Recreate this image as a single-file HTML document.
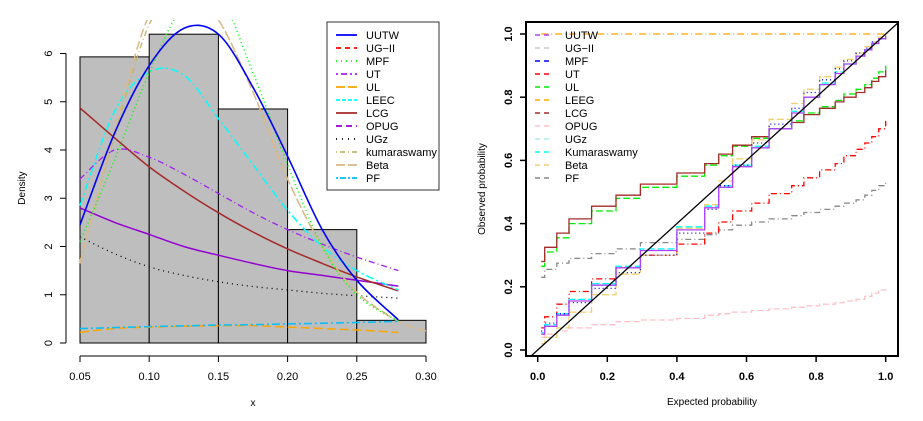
<!DOCTYPE html>
<html><head><meta charset="utf-8">
<style>
html,body{margin:0;padding:0;background:#fff;}
svg{display:block;font-family:"Liberation Sans",Arial,sans-serif;}
</style></head>
<body>
<svg id="chart" width="923" height="421" viewBox="0 0 923 421" xmlns="http://www.w3.org/2000/svg">
<defs>
<clipPath id="lclip"><rect x="40" y="20" width="400" height="340"/></clipPath>
<clipPath id="rclip"><rect x="526" y="22" width="372" height="334"/></clipPath>
</defs>
<g id="left"></g>
<g id="right"></g>
</svg>
<script>
// ---------- Left chart data ----------
const binEdges = [0.05,0.10,0.15,0.20,0.25,0.30];
const binHeights = [5.93,6.40,4.85,2.35,0.47];
const xTicksL = [0.05,0.10,0.15,0.20,0.25,0.30];
const xTickLabelsL = ["0.05","0.10","0.15","0.20","0.25","0.30"];
const yTicksL = [0,1,2,3,4,5,6];
const curveX = [0.05,0.075,0.10,0.125,0.15,0.175,0.20,0.225,0.25,0.28];
const densUUTW = [2.45,4.35,5.75,6.52,6.4,5.3,3.87,2.35,1.3,0.48];
const densMPF = [2.1,3.8,5.6,7.0,7.2,5.6,3.7,2.0,1.0,0.45];
const densUT = [3.4,4.0,3.85,3.5,3.1,2.7,2.35,2.05,1.78,1.5];
const densUL = [0.22,0.3,0.33,0.35,0.36,0.36,0.33,0.3,0.27,0.22];
const densLEEC = [2.85,4.8,5.62,5.55,4.65,3.7,2.75,2.0,1.5,1.1];
const densLCG = [4.87,4.25,3.65,3.15,2.7,2.3,1.95,1.65,1.37,1.08];
const densOPUG = [2.8,2.5,2.25,2.0,1.82,1.65,1.5,1.4,1.3,1.18];
const densUGz = [2.2,1.85,1.58,1.4,1.27,1.17,1.1,1.03,0.98,0.93];
const densKuma = [1.7,4.3,6.6,7.4,6.7,5.2,3.4,2.0,1.05,0.45];
const densBeta = [1.65,4.4,6.8,7.5,6.7,5.2,3.4,2.0,1.05,0.45,0.25];
const densPF = [0.3,0.32,0.34,0.355,0.37,0.38,0.395,0.41,0.425,0.45];
const legendL = ["UUTW","UG\u2212II","MPF","UT","UL","LEEC","LCG","OPUG","UGz","kumaraswamy","Beta","PF"];

// ---------- Right chart data ----------
const ppX = [0.01,0.02,0.055,0.09,0.155,0.225,0.295,0.40,0.48,0.52,0.56,0.615,0.665,0.73,0.765,0.81,0.855,0.88,0.915,0.94,0.96,0.98,1.0];
const ppLCG = [0.28,0.325,0.37,0.415,0.455,0.49,0.525,0.56,0.59,0.62,0.648,0.675,0.70,0.72,0.745,0.765,0.785,0.80,0.815,0.83,0.85,0.865,0.885];
const ppUL = [0.265,0.31,0.355,0.40,0.44,0.48,0.515,0.55,0.585,0.615,0.645,0.67,0.70,0.725,0.75,0.77,0.79,0.81,0.825,0.84,0.86,0.88,0.90];
const ppUUTW = [0.05,0.075,0.11,0.155,0.205,0.26,0.315,0.38,0.45,0.515,0.58,0.64,0.70,0.75,0.80,0.84,0.875,0.905,0.93,0.95,0.97,0.985,0.995];
const ppMPF = [0.06,0.085,0.115,0.15,0.195,0.245,0.30,0.37,0.445,0.52,0.585,0.655,0.715,0.765,0.815,0.855,0.89,0.915,0.94,0.955,0.975,0.985,0.995];
const ppKuma = [0.055,0.08,0.115,0.16,0.21,0.265,0.32,0.39,0.455,0.52,0.585,0.645,0.70,0.755,0.80,0.845,0.88,0.905,0.93,0.95,0.97,0.985,0.995];
const ppBeta = [0.02,0.04,0.07,0.12,0.175,0.24,0.30,0.385,0.46,0.535,0.605,0.665,0.73,0.78,0.825,0.865,0.895,0.92,0.94,0.96,0.975,0.99,0.998];
const ppUT = [0.07,0.105,0.145,0.185,0.225,0.26,0.30,0.335,0.37,0.405,0.44,0.465,0.495,0.52,0.545,0.57,0.59,0.615,0.635,0.655,0.675,0.70,0.725];
const ppPF = [0.23,0.255,0.275,0.29,0.305,0.32,0.34,0.35,0.365,0.38,0.395,0.405,0.415,0.425,0.435,0.445,0.455,0.465,0.475,0.49,0.505,0.52,0.535];
const ppOPUG = [0.04,0.05,0.06,0.07,0.08,0.09,0.095,0.10,0.11,0.115,0.12,0.125,0.13,0.135,0.14,0.145,0.15,0.155,0.16,0.17,0.18,0.19,0.195];
const ppLEEG = [1,1,1,1,1,1,1,1,1,1,1,1,1,1,1,1,1,1,1,1,1,1,1];
const xTicksR = [0,0.2,0.4,0.6,0.8,1.0];
const xTickLabelsR = ["0.0","0.2","0.4","0.6","0.8","1.0"];
const yTicksR = [0,0.2,0.4,0.6,0.8,1.0];
const yTickLabelsR = ["0.0","0.2","0.4","0.6","0.8","1.0"];
const legendR = ["UUTW","UG\u2212II","MPF","UT","UL","LEEG","LCG","OPUG","UGz","Kumaraswamy","Beta","PF"];

const NS = "http://www.w3.org/2000/svg";
function mk(parent, tag, attrs, text){
  const e = document.createElementNS(NS, tag);
  for (const k in attrs) e.setAttribute(k, attrs[k]);
  if (text !== undefined) e.textContent = text;
  parent.appendChild(e);
  return e;
}
const lx = v => 80 + (v - 0.05) / 0.25 * 346;
const ly = v => 343 - v * 48.25;
const rx = v => 537.7 + v * 348;
const ry = v => 350 - v * 316;

const L = document.getElementById('left');
for (let i = 0; i < binHeights.length; i++) {
  const r = mk(L, 'rect', {x: lx(binEdges[i]), y: ly(binHeights[i]), width: lx(binEdges[i+1]) - lx(binEdges[i]), height: ly(0) - ly(binHeights[i]), fill: '#bebebe', stroke: '#000', 'stroke-width': 1});
  
  
}
let a = mk(L, 'g', {});


mk(a, 'line', {x1: lx(0.05), x2: lx(0.30), y1: 356, y2: 356, stroke: '#000'});
xTicksL.forEach((t, i) => {
  mk(a, 'line', {x1: lx(t), x2: lx(t), y1: 356, y2: 362, stroke: '#000'});
  const tx = mk(a, 'text', {x: lx(t), y: 380, 'font-size': 11, 'text-anchor': 'middle'}, xTickLabelsL[i]);
  
  
});
let xt = mk(L, 'text', {x: 253, y: 406, 'font-size': 10, 'text-anchor': 'middle'}, 'x');


a = mk(L, 'g', {});


mk(a, 'line', {x1: 66, x2: 66, y1: ly(0), y2: ly(6), stroke: '#000'});
yTicksL.forEach(t => {
  mk(a, 'line', {x1: 60, x2: 66, y1: ly(t), y2: ly(t), stroke: '#000'});
  const tx = mk(a, 'text', {x: 52, y: ly(t), 'font-size': 11, 'text-anchor': 'middle', transform: `rotate(-90 52 ${ly(t)})`}, String(t));
  
  
});
let yt = mk(L, 'text', {x: 25, y: 188, 'font-size': 10, 'text-anchor': 'middle', transform: 'rotate(-90 25 188)'}, 'Density');



const cg = mk(L, 'g', {'clip-path': 'url(#lclip)'});
function smoothPath(pts){
  let d = 'M' + pts[0][0].toFixed(1) + ',' + pts[0][1].toFixed(1);
  for (let i = 0; i < pts.length - 1; i++) {
    const p0 = pts[Math.max(0, i-1)], p1 = pts[i], p2 = pts[i+1], p3 = pts[Math.min(pts.length-1, i+2)];
    const c1 = [p1[0] + (p2[0]-p0[0])/6, p1[1] + (p2[1]-p0[1])/6];
    const c2 = [p2[0] - (p3[0]-p1[0])/6, p2[1] - (p3[1]-p1[1])/6];
    d += ` C${c1[0].toFixed(1)},${c1[1].toFixed(1)} ${c2[0].toFixed(1)},${c2[1].toFixed(1)} ${p2[0].toFixed(1)},${p2[1].toFixed(1)}`;
  }
  return d;
}
function curve(vals, color, dash, w, name){
  const xs = vals.length > curveX.length ? curveX.concat([0.30]) : curveX;
  const pts = vals.map((v, i) => [lx(xs[i]), ly(v)]);
  const p = mk(cg, 'path', {d: smoothPath(pts), fill: 'none', stroke: color, 'stroke-width': w, 'stroke-dasharray': dash});
  
  
}
curve(densUGz, '#000', '1 4', 1.3, 'ugz-curve');
curve(densOPUG, '#9400d3', 'none', 1.5, 'opug-curve');
curve(densLCG, '#a52a2a', 'none', 1.5, 'lcg-curve');
curve(densUT, '#a020f0', '6 3 1 3', 1.3, 'ut-curve');
curve(densLEEC, '#00ffff', '8 3 2 3', 1.5, 'leec-curve');
curve(densKuma, '#bdb76b', '6 3 1 3', 1.3, 'kumaraswamy-curve');
curve(densBeta, '#deb887', '9 4', 1.5, 'beta-curve');
curve(densMPF, '#00ff00', '1 3', 1.6, 'mpf-curve');
curve(densUL, '#ffa500', '9 4', 1.5, 'ul-curve');
curve(densPF, '#00bfff', '8 3 2 3', 1.5, 'pf-curve');
curve(densUUTW, '#0000ff', 'none', 1.6, 'uutw-curve');

const legColsL = ['#0000ff','#ff0000','#00ff00','#a020f0','#ffa500','#00ffff','#a52a2a','#9400d3','#000','#bdb76b','#deb887','#00bfff'];
const legDashL = ['none','5 4','1 4','2 3 6 3','9 3','4 2','none','6 4','1 5','1 3 5 3','9 3','2 2 6 2'];
const lg = mk(L, 'g', {});


mk(lg, 'rect', {x: 327, y: 22, width: 112, height: 168, fill: '#fff', stroke: '#333', 'stroke-width': 1});
legendL.forEach((n, i) => {
  const g = mk(lg, 'g', {});
  
  
  const y = 35 + i * 13;
  mk(g, 'line', {x1: 336, x2: 357, y1: y, y2: y, stroke: legColsL[i], 'stroke-width': 1.8, 'stroke-dasharray': legDashL[i]});
  mk(g, 'text', {x: 366, y: y + 4, 'font-size': 11}, n);
});

// ---------- Right ----------
const R = document.getElementById('right');
let box = mk(R, 'rect', {x: 526, y: 22, width: 372, height: 334, fill: 'none', stroke: '#000', 'stroke-width': 2});


a = mk(R, 'g', {});


xTicksR.forEach((t, i) => {
  mk(a, 'line', {x1: rx(t), x2: rx(t), y1: 356, y2: 362, stroke: '#000', 'stroke-width': 1.5});
  const tx = mk(a, 'text', {x: rx(t), y: 380, 'font-size': 11, 'font-weight': 'bold', 'text-anchor': 'middle'}, xTickLabelsR[i]);
  
  
});
xt = mk(R, 'text', {x: 712, y: 405, 'font-size': 10, 'text-anchor': 'middle'}, 'Expected probability');


a = mk(R, 'g', {});


yTicksR.forEach((t, i) => {
  mk(a, 'line', {x1: 520, x2: 526, y1: ry(t), y2: ry(t), stroke: '#000', 'stroke-width': 1.5});
  const tx = mk(a, 'text', {x: 512, y: ry(t), 'font-size': 11, 'font-weight': 'bold', 'text-anchor': 'middle', transform: `rotate(-90 512 ${ry(t)})`}, yTickLabelsR[i]);
  
  
});
yt = mk(R, 'text', {x: 485, y: 189, 'font-size': 10, 'text-anchor': 'middle', transform: 'rotate(-90 485 189)'}, 'Observed probability');



const rg = mk(R, 'g', {'clip-path': 'url(#rclip)'});
function step(vals, color, dash, name){
  let d = 'M' + rx(ppX[0]).toFixed(1) + ',' + ry(vals[0]).toFixed(1);
  for (let i = 1; i < ppX.length; i++) {
    d += ' L' + rx(ppX[i]).toFixed(1) + ',' + ry(vals[i-1]).toFixed(1);
    d += ' L' + rx(ppX[i]).toFixed(1) + ',' + ry(vals[i]).toFixed(1);
  }
  const p = mk(rg, 'path', {d: d, fill: 'none', stroke: color, 'stroke-width': 1.3, 'stroke-dasharray': dash});
  
  
}
step(ppOPUG, '#ffc0cb', '6 3', 'opug-steps');
step(ppPF, '#888', '6 3 1 3', 'pf-steps');
step(ppUT, '#ff0000', '6 3 1 3', 'ut-steps');
step(ppUL, '#00ee00', '7 3', 'ul-steps');
step(ppLCG, '#a52a2a', 'none', 'lcg-steps');
step(ppBeta, '#f0d070', '7 3', 'beta-steps');
step(ppKuma, '#00ffff', '7 3', 'kumaraswamy-steps');
step(ppMPF, '#0000ff', '1 3', 'mpf-steps');
step(ppUUTW, '#b040ff', 'none', 'uutw-steps');
step(ppLEEG, '#ffa500', '7 3 1 3', 'leeg-steps');
const diag = mk(rg, 'line', {x1: rx(-0.1), y1: ry(-0.1), x2: rx(1.1), y2: ry(1.1), stroke: '#000', 'stroke-width': 1.3});



const legColsR = ['#b040ff','#cccccc','#0000ff','#ff0000','#00ee00','#ffa500','#a52a2a','#ffc0cb','#aee','#00ffff','#f0d070','#888'];
const lg2 = mk(R, 'g', {});


legendR.forEach((n, i) => {
  const g = mk(lg2, 'g', {});
  
  
  const y = 35 + i * 13;
  mk(g, 'line', {x1: 535, x2: 552, y1: y, y2: y, stroke: legColsR[i], 'stroke-width': 1.5, 'stroke-dasharray': '5 4'});
  mk(g, 'text', {x: 565, y: y + 4, 'font-size': 11}, n);
});
</script>
</body></html>
